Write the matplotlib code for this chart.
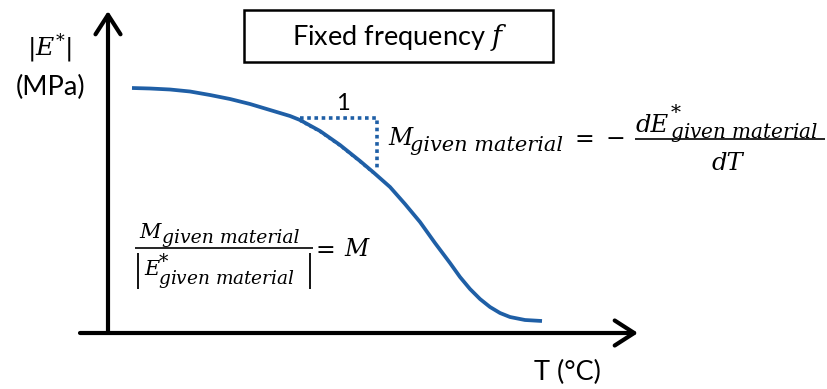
import matplotlib
matplotlib.use("Agg")
import matplotlib.pyplot as plt
from matplotlib.patches import FancyArrowPatch, Rectangle

plt.rcParams['mathtext.fontset'] = 'dejavuserif'
plt.rcParams['font.family'] = ['Lato', 'DejaVu Sans']

# Curve data (temperature units, modulus units) -- schematic master curve
T_vals = [24, 42, 62, 82, 102, 122, 142, 162, 182, 192, 212, 232, 252, 265, 282,
          297, 312, 327, 342, 352, 362, 372, 382, 392, 402, 417, 434]
E_vals = [245, 244.5, 243.5, 241.5, 238, 234, 229, 223, 217, 213, 202, 188, 172, 161, 146,
          129, 111, 90, 70, 56, 44, 34, 26, 20, 16, 13, 12]

# Tangent triangle (slope illustration)
tri_T = [192, 269, 269]
tri_E = [215, 215, 163]
hyp_T = [192, 212, 232, 252, 265]
hyp_E = [212, 201, 187, 171, 160]

blue = '#1f5fa6'
X0, Y0 = 108, 333  # pixel position of the origin (layout only)

fig = plt.figure(figsize=(8.28, 3.89), dpi=100)
ax = fig.add_axes([0, 0, 1, 1])
ax.set_xlim(-X0, 828 - X0)
ax.set_ylim(-(389 - Y0), Y0)
ax.axis('off')


def P(x, y):
    return x - X0, Y0 - y


def mt(x, y, s, size, italic=True, **kw):
    px, py = P(x, y)
    ax.text(px, py, s, fontsize=size, family='DejaVu Serif',
            style='italic' if italic else 'normal', ha='left', va='baseline', **kw)


def hline(x1, x2, y, lw=1.2):
    a, b = P(x1, y), P(x2, y)
    ax.plot([a[0], b[0]], [a[1], b[1]], color='black', lw=lw, solid_capstyle='butt')


def vline(x, y1, y2, lw=1.2):
    a, b = P(x, y1), P(x, y2)
    ax.plot([a[0], b[0]], [a[1], b[1]], color='black', lw=lw, solid_capstyle='butt')


# axes arrows
ax.add_patch(FancyArrowPatch((0, 0), (0, 322), arrowstyle='->,head_length=0.7,head_width=0.45',
                             mutation_scale=20, lw=3, color='black', shrinkA=0, shrinkB=0))
ax.add_patch(FancyArrowPatch((-28, 0), (530, 0), arrowstyle='->,head_length=0.7,head_width=0.45',
                             mutation_scale=20, lw=3, color='black', shrinkA=0, shrinkB=0))

# curve
ax.plot(T_vals, E_vals, color=blue, lw=2.7, solid_capstyle='butt', solid_joinstyle='round')
ax.plot(tri_T, tri_E, color=blue, lw=2.6, ls=(0, (1, 1)))
ax.plot(hyp_T, hyp_E, color=blue, lw=1.6, ls=(0, (1, 1.5)))

# box title
ax.add_patch(Rectangle(P(244, 62), 309, 52, fill=False, lw=1.8, ec='black'))
ax.text(*P(400, 37), r'Fixed frequency $f$', ha='center', va='center', fontsize=19.5)

# labels
ax.text(*P(50, 48), r'$|E^{*}|$', ha='center', va='center', fontsize=18)
ax.text(*P(51, 87), '(MPa)', ha='center', va='center', fontsize=19.5)
ax.text(*P(567, 372), 'T (°C)', ha='center', va='center', fontsize=19.5)
ax.text(*P(343, 103), '1', ha='center', va='center', fontsize=17)

# right formula: M_given material = - dE*_given material / dT
mt(388, 145, 'M', 17)
mt(410, 151, 'given material', 15)
mt(575, 146, '=', 17, italic=False)
mt(606, 146, '\u2212', 17, italic=False)
hline(635, 825, 139)
mt(636, 132, 'dE', 17.5)
mt(670, 131, r'${}^{*}_{given\ material}$', 20.6, italic=False)
mt(712, 170, 'dT', 17.5)

# left formula: M_given material / |E*_given material| = M
mt(139, 238, 'M', 15)
mt(162, 243, 'given material', 13.5)
hline(135, 313, 248)
vline(138, 253, 289, lw=1.3)
vline(310, 253, 289, lw=1.3)
mt(144, 275, 'E', 15)
mt(158, 278, r'${}^{*}_{given\ material}$', 19.0, italic=False)
mt(316, 257, '=', 17, italic=False)
mt(344, 256, 'M', 17)

fig.savefig('out.png', dpi=100)
